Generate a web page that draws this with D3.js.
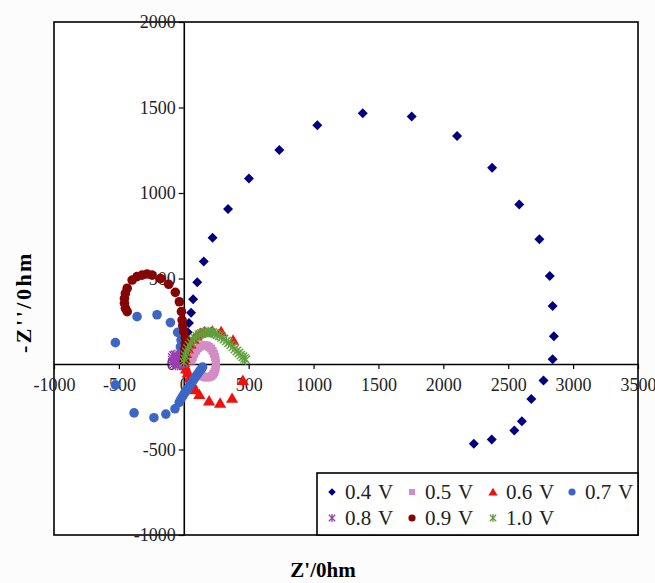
<!DOCTYPE html>
<html>
<head>
<meta charset="utf-8">
<script src="https://cdn.jsdelivr.net/npm/d3@7"></script>
<style>
    body { margin: 0; background: #fcfcfc; }
    svg { display: block; font-family: "Liberation Serif", "Times New Roman", serif; }
    .tick text { font-size: 18px; fill: #222; }
    .legend text { font-size: 21px; fill: #222; word-spacing: 2px; }
</style>
</head>
<body>
<div id="chart"></div>
<script>
// Nyquist data, [Z', -Z''] in Ohm
var z04 = [[2235, -467], [2373, -441], [2547, -389], [2605, -335], [2678, -204], [2772, -96],
    [2842, 28], [2852, 163], [2842, 339], [2820, 515], [2740, 730], [2585, 933], [2376, 1148],
    [2106, 1333], [1756, 1448], [1379, 1467], [1029, 1396], [736, 1252], [502, 1085], [341, 907],
    [222, 739], [154, 600], [104, 478], [72, 378], [56, 300], [40, 240], [30, 185], [20, 137],
    [12, 95], [6, 55], [2, 20]];
var z05 = [[60, 20], [70, 40], [82, 60], [95, 78], [110, 92], [125, 102], [142, 108], [160, 110],
    [178, 108], [195, 100], [210, 90], [222, 76], [232, 60], [240, 42], [245, 24], [248, 5],
    [247, -14], [243, -32], [236, -48], [226, -60], [213, -70], [198, -76], [182, -79], [166, -78],
    [150, -74], [138, -68]];
var z06 = [[3, 10], [8, 35], [18, 62], [32, 90], [52, 118], [75, 145], [100, 165], [128, 180],
    [158, 190], [220, 192], [288, 190], [380, 140], [455, -95], [372, -200], [280, -228],
    [195, -215], [120, -178], [90, -150], [65, -115], [45, -82], [30, -52], [18, -28], [8, -10]];
var z07 = [[-15, 65], [-26, 100], [-21, 140], [-47, 185], [-103, 242], [-206, 288], [-360, 277],
    [-527, 125], [-527, -122], [-383, -286], [-230, -314], [-138, -293], [-68, -262], [-35, -225],
    [-22, -205], [-8, -188], [5, -172], [18, -157], [32, -142], [45, -127], [58, -112], [72, -97],
    [85, -82], [98, -68], [110, -55], [122, -42], [134, -30], [145, -18]];
var z08 = [[-8, 5], [-18, 14], [-30, 26], [-42, 38], [-55, 48], [-68, 54], [-80, 50], [-88, 38],
    [-90, 24], [-85, 10], [-75, 0], [-62, -5], [-48, -5], [-35, -2], [-22, 2], [-60, 22],
    [-72, 28], [-45, 18], [-32, 12]];
var z09 = [[3, 15], [5, 35], [8, 60], [10, 90], [12, 121], [12, 152], [0, 189], [-8, 225],
    [-13, 257], [-18, 306], [-34, 364], [-65, 419], [-116, 466], [-180, 500], [-244, 520],
    [-283, 526], [-321, 520], [-360, 511], [-398, 491], [-436, 443], [-450, 413], [-457, 384],
    [-457, 355], [-450, 326], [-436, 306]];
var z10 = [[0, 10], [5, 30], [12, 50], [20, 70], [30, 90], [42, 108], [55, 125], [70, 140],
    [85, 152], [100, 163], [118, 172], [135, 178], [152, 183], [170, 186], [188, 187], [205, 186],
    [222, 183], [240, 178], [258, 172], [275, 165], [292, 156], [310, 146], [328, 135], [345, 124],
    [362, 112], [378, 100], [394, 88], [410, 76], [425, 64], [440, 52], [455, 42], [468, 33],
    [478, 25]];

var seriesNames = ["0.4 V", "0.5 V", "0.6 V", "0.7 V", "0.8 V", "0.9 V", "1.0 V"];
var seriesData = [z04, z05, z06, z07, z08, z09, z10];
var xTicks = [-1000, -500, 0, 500, 1000, 1500, 2000, 2500, 3000, 3500];
var yTicks = [-1000, -500, 0, 500, 1000, 1500, 2000];

var styles = [
    { shape: "diamond", color: "#000080" },
    { shape: "square", color: "#d58bc4" },
    { shape: "triangle", color: "#f01010" },
    { shape: "circle", color: "#3d66c4" },
    { shape: "asterisk", color: "#9b3fb5" },
    { shape: "circle", color: "#850505" },
    { shape: "asterisk", color: "#5fa03c" }
];

var width = 655, height = 583;
var plot = { left: 54, right: 638, top: 22, bottom: 535 };

var svg = d3.select("#chart").append("svg")
    .attr("width", width)
    .attr("height", height);

var x = d3.scaleLinear().domain([-1000, 3500]).range([plot.left, plot.right]);
var y = d3.scaleLinear().domain([-1000, 2000]).range([plot.bottom, plot.top]);

// marker path for a given shape, centred at 0,0
function markerPath(shape, r) {
    if (shape === "diamond") {
        return "M0," + (-r) + "L" + r + ",0L0," + r + "L" + (-r) + ",0Z";
    }
    if (shape === "square") {
        return "M" + (-r) + "," + (-r) + "h" + (2 * r) + "v" + (2 * r) + "h" + (-2 * r) + "Z";
    }
    if (shape === "triangle") {
        return "M0," + (-r) + "L" + (r * 1.05) + "," + (r * 0.8) + "L" + (-r * 1.05) + "," + (r * 0.8) + "Z";
    }
    if (shape === "circle") {
        return d3.arc()({ innerRadius: 0, outerRadius: r, startAngle: 0, endAngle: 2 * Math.PI });
    }
    // asterisk: x with a vertical bar
    var d = r * 0.8;
    return "M0," + (-r) + "V" + r +
        "M" + (-d) + "," + (-d) + "L" + d + "," + d +
        "M" + d + "," + (-d) + "L" + (-d) + "," + d;
}

var markerSize = { diamond: 5, square: 4, triangle: 5.8, circle: 4.8, asterisk: 5.3 };

function drawMarker(sel, st) {
    var p = sel.append("path").attr("d", markerPath(st.shape, markerSize[st.shape]));
    if (st.shape === "asterisk") {
        p.attr("fill", "none").attr("stroke", st.color).attr("stroke-width", 1.3);
    } else {
        p.attr("fill", st.color);
    }
    return p;
}

// plot frame
svg.append("rect")
    .attr("x", plot.left).attr("y", plot.top)
    .attr("width", plot.right - plot.left).attr("height", plot.bottom - plot.top)
    .attr("fill", "#fff").attr("stroke", "#000").attr("stroke-width", 1.6);

// axes cross at the origin
var yAxis = svg.append("g")
    .attr("transform", "translate(" + x(0) + ",0)")
    .call(d3.axisLeft(y).tickValues(yTicks).tickSize(5).tickSizeOuter(0).tickPadding(3)
        .tickFormat(function (d) { return String(d); }));
var xAxis = svg.append("g")
    .attr("transform", "translate(0," + y(0) + ")")
    .call(d3.axisBottom(x).tickValues(xTicks).tickSize(5).tickSizeOuter(0).tickPadding(9)
        .tickFormat(function (d) { return String(d); }));
[xAxis, yAxis].forEach(function (a) {
    a.attr("font-family", null).attr("font-size", null);
    a.select(".domain").attr("stroke", "#000").attr("stroke-width", 1.6);
    a.selectAll(".tick line").attr("stroke", "#000").attr("stroke-width", 1.2);
});

// data points
seriesData.forEach(function (data, i) {
    var st = styles[i];
    var g = svg.append("g").attr("class", "series");
    data.forEach(function (pt) {
        drawMarker(g, st).attr("transform", "translate(" + x(pt[0]) + "," + y(pt[1]) + ")");
    });
});

// legend
var legend = svg.append("g").attr("class", "legend");
legend.append("rect")
    .attr("x", 317).attr("y", 473)
    .attr("width", plot.right - 317).attr("height", plot.bottom - 473)
    .attr("fill", "#fff").attr("stroke", "#000").attr("stroke-width", 1.6);
var colX = [332, 412, 493, 572];
var rowY = [492, 518];
seriesNames.forEach(function (name, i) {
    var cx = colX[i % 4], cy = rowY[Math.floor(i / 4)];
    var st = styles[i];
    var m = drawMarker(legend, st).attr("transform", "translate(" + cx + "," + cy + ")");
    m.attr("d", markerPath(st.shape, markerSize[st.shape] * 0.75));
    legend.append("text")
        .attr("x", cx + 13).attr("y", cy + 7)
        .text(name);
});

// axis titles
svg.append("text")
    .attr("x", 323).attr("y", 577)
    .attr("text-anchor", "middle")
    .attr("font-weight", "bold").attr("font-size", 21)
    .text("Z'/0hm");
svg.append("text")
    .attr("transform", "translate(31,302) rotate(-90)")
    .attr("text-anchor", "middle")
    .attr("font-weight", "bold").attr("font-size", 22)
    .attr("letter-spacing", 2.5)
    .text("-Z''/0hm");
</script>
</body>
</html>
